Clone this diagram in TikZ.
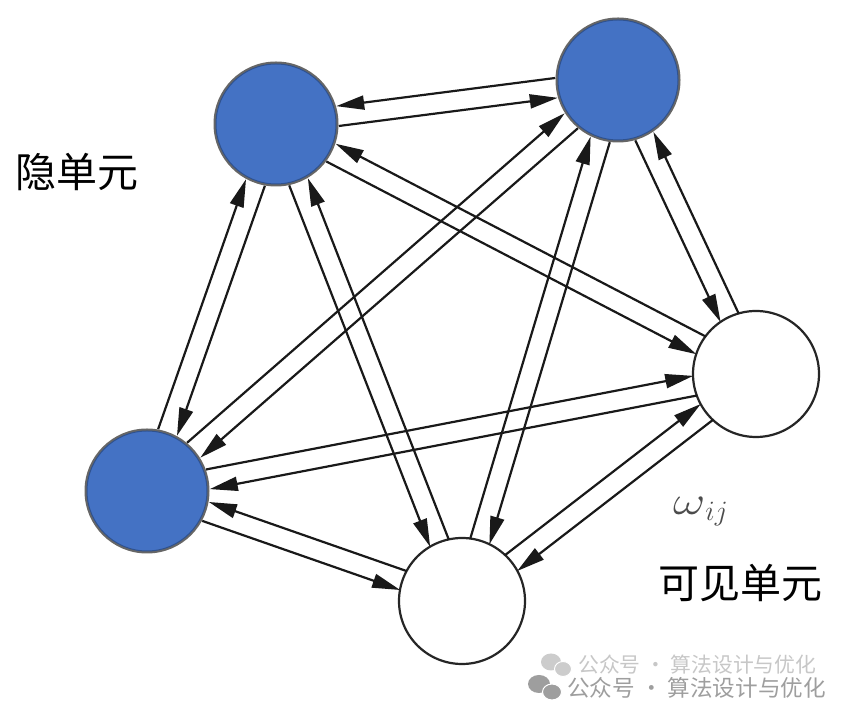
\RequirePackage{fix-cm}
\documentclass[tikz,border=0pt]{standalone}
\usepackage{fontspec}
\newfontfamily\cjk{Noto Sans CJK SC}
\usetikzlibrary{calc,arrows.meta}
\definecolor{hidblue}{HTML}{4472C4}
\definecolor{hidedge}{HTML}{2F528F}
\tikzset{
  hidden/.style={circle,minimum size=120pt,inner sep=0pt,fill=hidblue,draw=hidedge,line width=1pt,
    preaction={draw=black!60,line width=5pt}},
  visible/.style={circle,minimum size=126pt,inner sep=0pt,fill=white,draw=black!85,line width=2.2pt},
  link/.style={line width=2.2pt,draw=black!90,-{Triangle[length=28pt 0 0,width=14pt 0 0]},
    shorten <=62pt,shorten >=62pt},
  unitlabel/.style={font=\cjk\fontsize{41}{41}\selectfont,inner sep=0pt}
}
\begin{document}
\begin{tikzpicture}[x=1pt,y=1pt]
  \fill[white] (0,0) rectangle (854,722);
  \useasboundingbox (0,0) rectangle (854,722);
  % units
  \node[hidden] (H1) at (276,598) {};
  \node[hidden] (H2) at (618,642) {};
  \node[hidden] (H3) at (147,231) {};
  \node[visible] (V1) at (756,348) {};
  \node[visible] (V2) at (462,121) {};
  % weights, one line each way
  \foreach \a/\b/\s in {H1/H2/270, H1/H3/90, H3/V1/90, H2/V1/270, H1/V1/270,
                        V2/V1/90, H1/V2/270, H2/V2/90, H3/H2/90, H3/V2/270}{
    \draw[link] ($(\a)!10pt!\s:(\b)$) -- ($(\b)!10pt!-\s:(\a)$);
    \draw[link] ($(\b)!10pt!\s:(\a)$) -- ($(\a)!10pt!-\s:(\b)$);
  }
  \node[unitlabel] (hid) at (77,550) {隐单元};
  \node[unitlabel] (vis) at (740,139) {可见单元};
  \node[anchor=base west,inner sep=0pt,text=black!70,font=\fontsize{40}{40}\selectfont] (w) at (673,207) {\scalebox{1.25}[1]{$\omega$}$_{ij}$};
  % watermark
  \fill[black!20] (551,60) ellipse (10 and 8.5);
  \fill[black!20,draw=white,line width=1pt] (563,53) ellipse (8.5 and 7.5);
  \node[anchor=west,inner sep=0pt,text=black!22,font=\cjk\fontsize{20.8}{21}\selectfont] (wm1) at (578,57) {公众号 · 算法设计与优化};
  \fill[black!38] (539,38) ellipse (11 and 9);
  \fill[black!38,draw=white,line width=1pt] (552,30) ellipse (9.5 and 8);
  \node[anchor=west,inner sep=0pt,text=black!38,font=\cjk\fontsize{22.6}{23}\selectfont] (wm2) at (567,34) {公众号 · 算法设计与优化};
\end{tikzpicture}
\end{document}
